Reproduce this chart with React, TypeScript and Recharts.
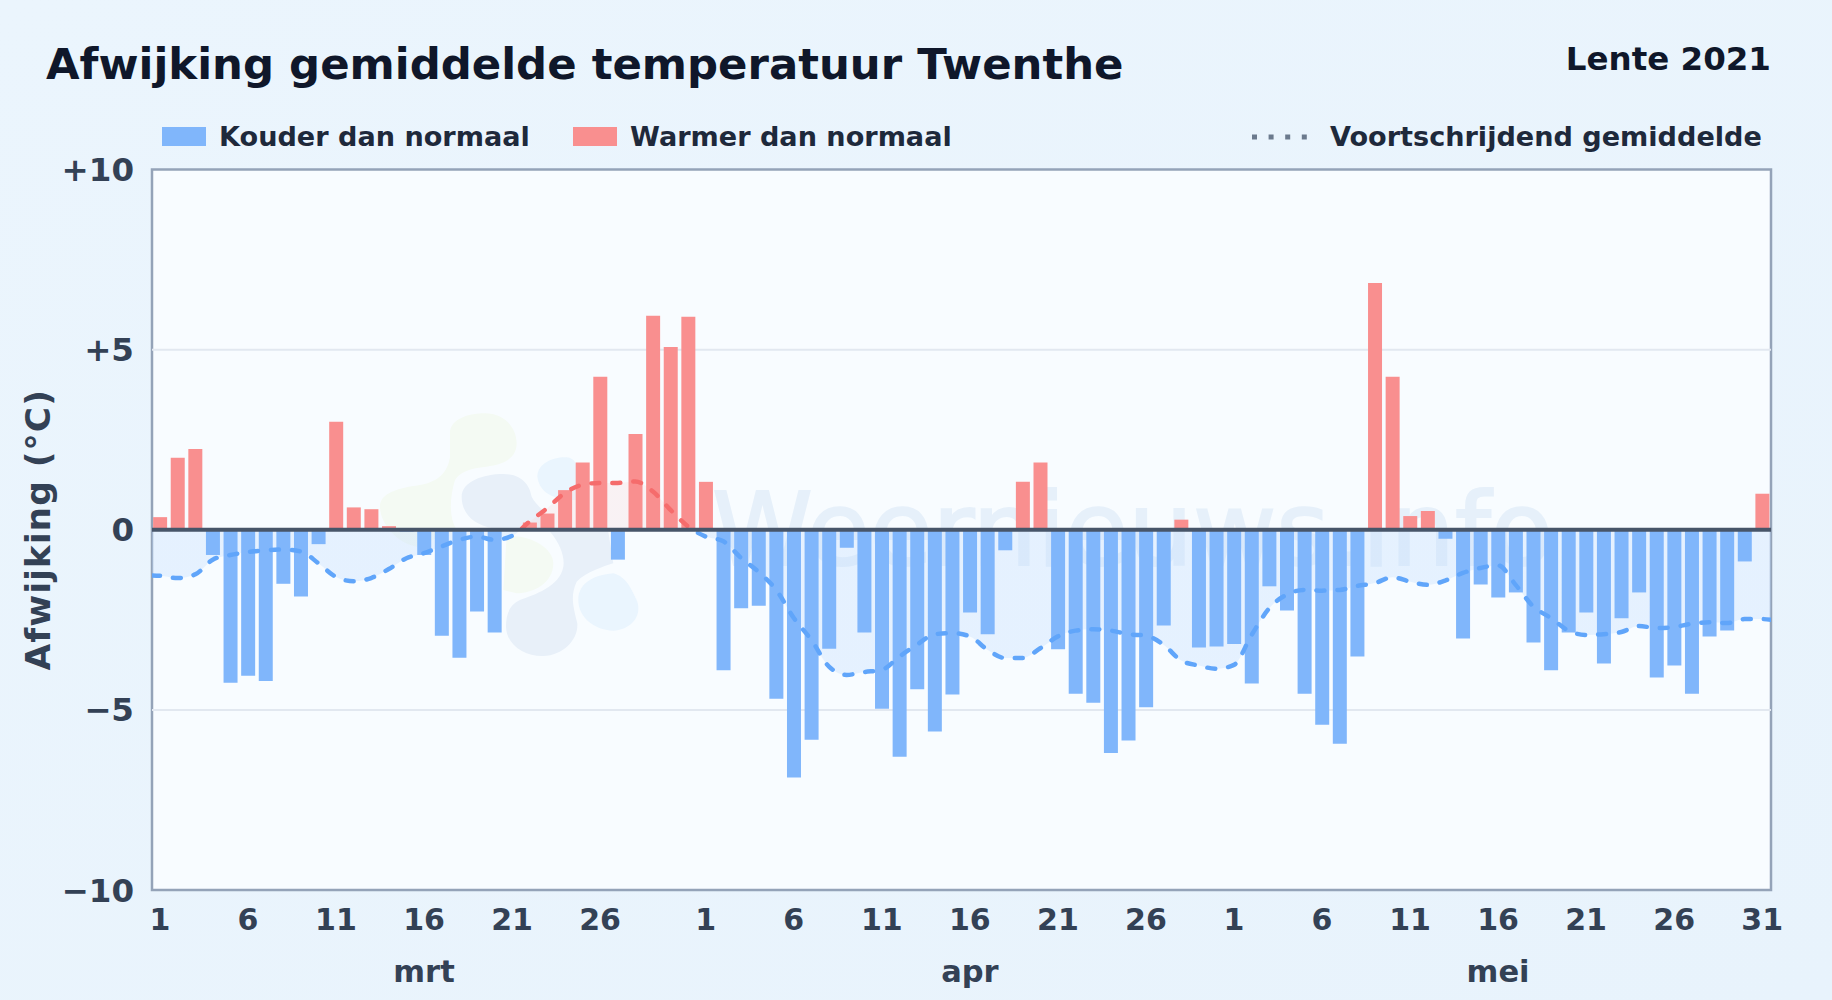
import React from "react";
import { ComposedChart, Area, Bar, Line, Cell, XAxis, YAxis, CartesianGrid, ReferenceLine } from "recharts";

const FONT = "'DejaVu Sans', sans-serif";
const BLUE = "#80b6fb";
const RED = "#f98f8f";

// dag-index 0 = 1 maart, 31 = 1 april, 61 = 1 mei
const dayTicks = [0, 5, 10, 15, 20, 25, 31, 36, 41, 46, 51, 56, 61, 66, 71, 76, 81, 86, 91];
const dayLabels = ["1", "6", "11", "16", "21", "26", "1", "6", "11", "16", "21", "26", "1", "6", "11", "16", "21", "26", "31"];
const monthTicks = [15, 46, 76];
const monthLabels = ["mrt", "apr", "mei"];
const yTicks = [-10, -5, 0, 5, 10];

const deviation = [
  0.35, 2.0, 2.24, -0.7, -4.25, -4.05, -4.2, -1.5, -1.85, -0.4, 3.0, 0.62, 0.57, 0.1, -0.05, -0.7,
  -2.94, -3.55, -2.27, -2.85, 0, 0.2, 0.45, 1.1, 1.87, 4.25, -0.83, 2.66, 5.94, 5.07, 5.91,
  1.33, -3.9, -2.18, -2.11, -4.69, -6.88, -5.83, -3.3, -0.5, -2.85, -4.97, -6.3, -4.43, -5.6, -4.57,
  -2.3, -2.9, -0.57, 1.33, 1.87, -3.32, -4.55, -4.8, -6.2, -5.85, -4.93, -2.66, 0.28, -3.27, -3.24,
  -3.17, -4.27, -1.57, -2.24, -4.55, -5.41, -5.94, -3.52, 6.85, 4.25, 0.38, 0.52, -0.25, -3.02, -1.52,
  -1.88, -1.74, -3.13, -3.9, -2.85, -2.3, -3.71, -2.46, -1.74, -4.1, -3.77, -4.55, -2.96, -2.8, -0.88, 1.0,
];

const movingAverage = [
  -1.28, -1.34, -1.24, -0.83, -0.7, -0.62, -0.57, -0.55, -0.6, -0.93, -1.31, -1.43, -1.34, -1.09, -0.79, -0.65,
  -0.46, -0.28, -0.19, -0.28, -0.17, 0.23, 0.6, 1.02, 1.25, 1.3, 1.3, 1.34, 1.06, 0.55, 0.09,
  -0.19, -0.32, -0.78, -1.17, -1.67, -2.45, -3.06, -3.8, -4.03, -3.95, -3.89, -3.52, -3.19, -2.9, -2.87,
  -2.96, -3.33, -3.56, -3.56, -3.29, -2.96, -2.8, -2.76, -2.8, -2.9, -2.94, -3.19, -3.63, -3.77, -3.86,
  -3.75, -2.92, -2.18, -1.8, -1.67, -1.69, -1.67, -1.56, -1.48, -1.32, -1.44, -1.53, -1.41, -1.2, -1.06,
  -0.99, -1.53, -2.13, -2.45, -2.8, -2.92, -2.9, -2.84, -2.67, -2.73, -2.7, -2.61, -2.57, -2.59, -2.48, -2.48,
];

// de lijn loopt door tot de randen van het plotvlak, de staven alleen per dag
const X_MIN = -0.45;
const X_MAX = 91.5;
const chartData = [
  { pos: X_MIN, average: -1.27 },
  ...deviation.map((value, i) => ({ pos: i, day: i, deviation: value, average: movingAverage[i] })),
  { pos: X_MAX, average: -2.5 },
];

const formatY = (v: number) => (v > 0 ? `+${v}` : v < 0 ? `\u2212${-v}` : "0");

// achtergrond, logo en watermerk liggen achter de grafiek
function Backdrop() {
  return (
    <svg width={1832} height={1000} style={{ position: "absolute", left: 0, top: 0 }}>
      <defs>
        <linearGradient id="pageBg" x1="0" y1="0" x2="1" y2="1">
          <stop offset="0%" stopColor="#ebf5fd" />
          <stop offset="100%" stopColor="#e8f3fc" />
        </linearGradient>
      </defs>
      <rect width={1832} height={1000} fill="url(#pageBg)" />
      <rect x={152} y={169.5} width={1619} height={720.5} fill="#f8fcff" />
      <g transform="translate(360 400) scale(0.3333)">
        <path
          d="M270 100 C270 55 330 40 375 40 C430 40 470 80 470 130 C470 175 430 195 380 200 C330 205 300 215 285 240 C270 290 265 350 290 390 L170 440 C110 430 60 370 60 320 C60 280 110 265 180 255 C240 245 265 210 270 170 Z"
          fill="#f4faf3"
        />
        <path d="M440 410 C500 400 580 440 580 490 C580 550 520 580 470 580 L430 570 Z" fill="#f4faf3" />
        <path
          d="M305 290 C305 245 370 222 430 222 C490 222 510 260 515 290 C530 320 570 340 580 390 L400 385 C340 375 305 340 305 290 Z"
          fill="#e8f0f9"
        />
        <path
          d="M570 395 C600 430 615 470 610 500 C600 560 520 585 480 600 C445 615 438 650 438 680 C440 740 500 770 550 768 C610 765 655 720 652 670 C640 620 630 590 650 545 C680 515 730 500 760 490 L745 395 Z"
          fill="#e8f0f9"
        />
        <path d="M532 230 C532 190 580 170 620 172 C650 175 660 200 655 300 C600 300 540 290 532 230 Z" fill="#eaf5fe" />
        <path
          d="M655 600 C655 550 700 525 760 520 C800 530 815 570 830 600 C850 650 810 690 760 692 C700 690 655 650 655 600 Z"
          fill="#eaf5fe"
        />
      </g>
      <text x={712} y={565} fontFamily={FONT} fontSize={102} fontWeight={400} fill="#e6f0fa" stroke="#e6f0fa" strokeWidth={2}>
        Weernieuws.info
      </text>
      <rect x={152} y={169.5} width={1619} height={720.5} fill="none" stroke="#94a3b8" strokeWidth={2.5} />

      <text x={46} y={79} fontFamily={FONT} fontSize={43.4} fontWeight={700} fill="#0f172a">
        Afwijking gemiddelde temperatuur Twenthe
      </text>
      <text x={1771} y={70} textAnchor="end" fontFamily={FONT} fontSize={32.5} fontWeight={700} fill="#0f172a">
        Lente 2021
      </text>

      <rect x={162} y={127} width={44} height={19} fill={BLUE} />
      <text x={219} y={146} fontFamily={FONT} fontSize={27.1} fontWeight={700} fill="#1e293b">
        Kouder dan normaal
      </text>
      <rect x={573} y={127} width={44} height={19} fill={RED} />
      <text x={630} y={146} fontFamily={FONT} fontSize={27.1} fontWeight={700} fill="#1e293b">
        Warmer dan normaal
      </text>
      <line x1={1252} y1={137} x2={1307} y2={137} stroke="#6b7a8d" strokeWidth={5} strokeDasharray="5 11.6" />
      <text x={1330} y={146} fontFamily={FONT} fontSize={27.1} fontWeight={700} fill="#1e293b">
        Voortschrijdend gemiddelde
      </text>
    </svg>
  );
}

export default function App() {
  return (
    <div style={{ position: "absolute", left: 0, top: 0, width: 1832, height: 1000, overflow: "hidden" }}>
      <Backdrop />
      <div style={{ position: "absolute", left: 0, top: 0 }}>
        <ComposedChart
          width={1832}
          height={1000}
          data={chartData}
          margin={{ top: 169.5, right: 61, bottom: 0, left: 0 }}
        >
          <defs>
            <linearGradient id="avgStroke" gradientUnits="userSpaceOnUse" x1="0" y1="169.5" x2="0" y2="890">
              <stop offset="50%" stopColor="#f56c6c" />
              <stop offset="50%" stopColor="#60a5fa" />
            </linearGradient>
            <linearGradient id="avgFill" gradientUnits="userSpaceOnUse" x1="0" y1="169.5" x2="0" y2="890">
              <stop offset="50%" stopColor="#fecaca" stopOpacity={0.35} />
              <stop offset="50%" stopColor="#bfdbfe" stopOpacity={0.55} />
            </linearGradient>
          </defs>
          <CartesianGrid horizontal vertical={false} horizontalValues={[-5, 5]} stroke="#e2e8f0" strokeWidth={2} />
          <XAxis
            type="number"
            dataKey="day"
            domain={[X_MIN, X_MAX]}
            allowDataOverflow
            ticks={dayTicks}
            interval={0}
            height={54}
            axisLine={false}
            tickLine={false}
            tickMargin={13}
            tickFormatter={(v: number) => dayLabels[dayTicks.indexOf(v)]}
            tick={{ fontFamily: FONT, fontSize: 30, fontWeight: 700, fill: "#334155" }}
          />
          <XAxis
            xAxisId="month"
            type="number"
            dataKey="day"
            domain={[X_MIN, X_MAX]}
            allowDataOverflow
            ticks={monthTicks}
            interval={0}
            height={56}
            axisLine={false}
            tickLine={false}
            tickMargin={10}
            tickFormatter={(v: number) => monthLabels[monthTicks.indexOf(v)]}
            tick={{ fontFamily: FONT, fontSize: 30.5, fontWeight: 700, fill: "#334155" }}
          />
          <XAxis xAxisId="avg" type="number" dataKey="pos" domain={[X_MIN, X_MAX]} allowDataOverflow height={0} hide />
          <YAxis
            domain={[-10, 10]}
            ticks={yTicks}
            width={152}
            axisLine={false}
            tickLine={false}
            tickMargin={12}
            tickFormatter={formatY}
            tick={{ fontFamily: FONT, fontSize: 32.5, fontWeight: 700, fill: "#334155" }}
            label={{
              value: "Afwijking (°C)",
              angle: -90,
              position: "insideLeft",
              offset: 38,
              style: { fontFamily: FONT, fontSize: 34.5, letterSpacing: 1, fontWeight: 700, fill: "#334155", textAnchor: "middle" },
            }}
          />
          <Area
            xAxisId="avg"
            dataKey="average"
            type="monotone"
            baseValue={0}
            stroke="none"
            fill="url(#avgFill)"
            dot={false}
            activeDot={false}
            isAnimationActive={false}
          />
          <Bar dataKey="deviation" barSize={14} isAnimationActive={false}>
            {chartData.map((row, index) => (
              <Cell key={`cell-${index}`} fill={(row.deviation ?? 0) >= 0 ? RED : BLUE} />
            ))}
          </Bar>
          <Line
            xAxisId="avg"
            dataKey="average"
            type="monotone"
            stroke="url(#avgStroke)"
            strokeWidth={4.5}
            strokeDasharray="8 13"
            strokeLinecap="round"
            dot={false}
            activeDot={false}
            isAnimationActive={false}
          />
          <ReferenceLine y={0} stroke="#475569" strokeWidth={4} />
        </ComposedChart>
      </div>
    </div>
  );
}
